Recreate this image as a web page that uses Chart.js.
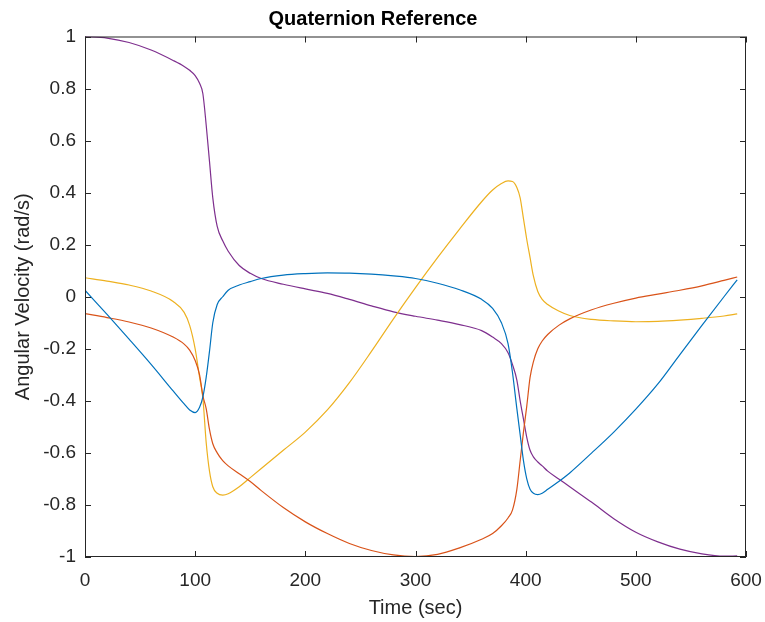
<!DOCTYPE html>
<html>
<head>
<meta charset="utf-8">
<script src="https://cdn.jsdelivr.net/npm/chart.js@4"></script>
<style>
  html, body { margin: 0; padding: 0; background: #fff; }
  #wrap { width: 765px; height: 622px; }
</style>
</head>
<body>
<div id="wrap"><canvas id="myChart"></canvas></div>
<script>
// Dados do gráfico
const timeSec = [0, 20, 40, 60, 80, 90, 95, 100, 104, 107, 110, 113, 116, 120, 125, 130, 140, 150, 160, 180, 200, 220, 240, 260, 280, 300, 320, 340, 360, 370, 378, 384, 388, 392, 395, 398, 401, 404, 407, 411, 415, 420, 430, 440, 460, 480, 500, 520, 540, 560, 580, 592];

const q1 = [0.025, -0.068, -0.163, -0.26, -0.362, -0.412, -0.435, -0.445, -0.425, -0.385, -0.31, -0.21, -0.1, -0.03, 0.0, 0.025, 0.045, 0.058, 0.07, 0.083, 0.089, 0.092, 0.091, 0.087, 0.08, 0.07, 0.052, 0.027, -0.01, -0.045, -0.1, -0.18, -0.29, -0.43, -0.53, -0.63, -0.7, -0.74, -0.755, -0.76, -0.755, -0.74, -0.71, -0.677, -0.6, -0.52, -0.432, -0.335, -0.222, -0.11, 0.0, 0.065];

const q2 = [-0.065, -0.08, -0.097, -0.12, -0.155, -0.182, -0.205, -0.245, -0.3, -0.38, -0.43, -0.51, -0.565, -0.6, -0.63, -0.65, -0.68, -0.71, -0.745, -0.81, -0.865, -0.91, -0.948, -0.975, -0.992, -0.998, -0.99, -0.965, -0.932, -0.91, -0.88, -0.85, -0.82, -0.74, -0.63, -0.52, -0.42, -0.31, -0.25, -0.2, -0.17, -0.145, -0.11, -0.085, -0.05, -0.025, -0.005, 0.01, 0.025, 0.042, 0.063, 0.076];

const q3 = [0.073, 0.06, 0.045, 0.022, -0.018, -0.06, -0.11, -0.2, -0.31, -0.39, -0.56, -0.67, -0.73, -0.755, -0.762, -0.757, -0.73, -0.695, -0.66, -0.59, -0.52, -0.435, -0.33, -0.21, -0.085, 0.035, 0.15, 0.26, 0.365, 0.41, 0.435, 0.445, 0.443, 0.42, 0.38, 0.3, 0.22, 0.15, 0.08, 0.02, -0.01, -0.03, -0.055, -0.072, -0.087, -0.093, -0.096, -0.095, -0.09, -0.083, -0.074, -0.066];

const q4 = [1.0, 0.994, 0.977, 0.948, 0.908, 0.885, 0.87, 0.85, 0.82, 0.78, 0.66, 0.52, 0.38, 0.27, 0.215, 0.175, 0.12, 0.09, 0.07, 0.048, 0.03, 0.013, -0.01, -0.035, -0.058, -0.075, -0.09, -0.107, -0.13, -0.155, -0.18, -0.215, -0.26, -0.32, -0.4, -0.47, -0.54, -0.59, -0.615, -0.635, -0.65, -0.67, -0.7, -0.73, -0.79, -0.853, -0.905, -0.942, -0.97, -0.988, -0.997, -0.996];

const xTicks = [0, 100, 200, 300, 400, 500, 600];
const yTicks = [-1, -0.8, -0.6, -0.4, -0.2, 0, 0.2, 0.4, 0.6, 0.8, 1];
const yTickLabels = ['-1', '-0.8', '-0.6', '-0.4', '-0.2', '0', '0.2', '0.4', '0.6', '0.8', '1'];

const seriesColors = ['#0072BD', '#D95319', '#EDB120', '#7E2F8E'];
const FONT = 'Liberation Sans, Arial, Helvetica, sans-serif';

function toPoints(values) {
    return values.map((v, i) => ({ x: timeSec[i], y: v }));
}

// Caixa estilo MATLAB com marcas para dentro
const boxPlugin = {
    id: 'matlabBox',
    afterDatasetsDraw(chart) {
        const { ctx, chartArea: a, scales } = chart;
        ctx.save();
        ctx.strokeStyle = '#262626';
        ctx.lineWidth = 1;
        ctx.strokeRect(a.left + 0.5, a.top + 0.5, a.right - a.left - 1, a.bottom - a.top - 1);
        ctx.beginPath();
        const len = 6;
        xTicks.forEach(t => {
            const px = Math.round(scales.x.getPixelForValue(t)) + 0.5;
            ctx.moveTo(px, a.bottom); ctx.lineTo(px, a.bottom - len);
            ctx.moveTo(px, a.top); ctx.lineTo(px, a.top + len);
        });
        yTicks.forEach(t => {
            const py = Math.round(scales.y.getPixelForValue(t)) + 0.5;
            ctx.moveTo(a.left, py); ctx.lineTo(a.left + len, py);
            ctx.moveTo(a.right, py); ctx.lineTo(a.right - len, py);
        });
        ctx.stroke();
        ctx.restore();
    }
};

const ctx = document.getElementById('myChart').getContext('2d');
new Chart(ctx, {
    type: 'line',
    data: {
        datasets: [q1, q2, q3, q4].map((vals, i) => ({
            data: toPoints(vals),
            borderColor: seriesColors[i],
            borderWidth: 1.2,
            pointRadius: 0,
            fill: false,
            cubicInterpolationMode: 'monotone'
        }))
    },
    options: {
        responsive: true,
        maintainAspectRatio: false,
        animation: false,
        layout: { padding: { left: 0, right: 19, top: 0, bottom: 0 } },
        scales: {
            x: {
                type: 'linear',
                min: 0,
                max: 600,
                afterBuildTicks: axis => { axis.ticks = xTicks.map(v => ({ value: v })); },
                afterFit: scale => { scale.height = 65; scale.paddingLeft = 0; scale.paddingRight = 0; },
                grid: { display: false, drawTicks: false },
                border: { display: false },
                ticks: {
                    color: '#262626',
                    padding: 12,
                    maxRotation: 0,
                    font: { family: FONT, size: 19 }
                },
                title: {
                    display: true,
                    text: 'Time (sec)',
                    color: '#262626',
                    padding: { top: 0, bottom: 2 },
                    font: { family: FONT, size: 20 }
                }
            },
            y: {
                type: 'linear',
                min: -1,
                max: 1,
                afterBuildTicks: axis => { axis.ticks = yTicks.map(v => ({ value: v })); },
                afterFit: scale => { scale.width = 85; },
                grid: { display: false, drawTicks: false },
                border: { display: false },
                ticks: {
                    color: '#262626',
                    padding: 9,
                    font: { family: FONT, size: 19 },
                    callback: (value) => yTickLabels[yTicks.indexOf(value)]
                },
                title: {
                    display: true,
                    text: 'Angular Velocity (rad/s)',
                    color: '#262626',
                    padding: { top: 11, bottom: 0 },
                    font: { family: FONT, size: 20 }
                }
            }
        },
        plugins: {
            legend: { display: false },
            tooltip: { enabled: false },
            title: {
                display: true,
                text: 'Quaternion Reference',
                color: '#000',
                padding: { top: 7, bottom: 5.5 },
                font: { family: FONT, size: 20, weight: 'bold' }
            }
        }
    },
    plugins: [boxPlugin]
});
</script>
</body>
</html>
